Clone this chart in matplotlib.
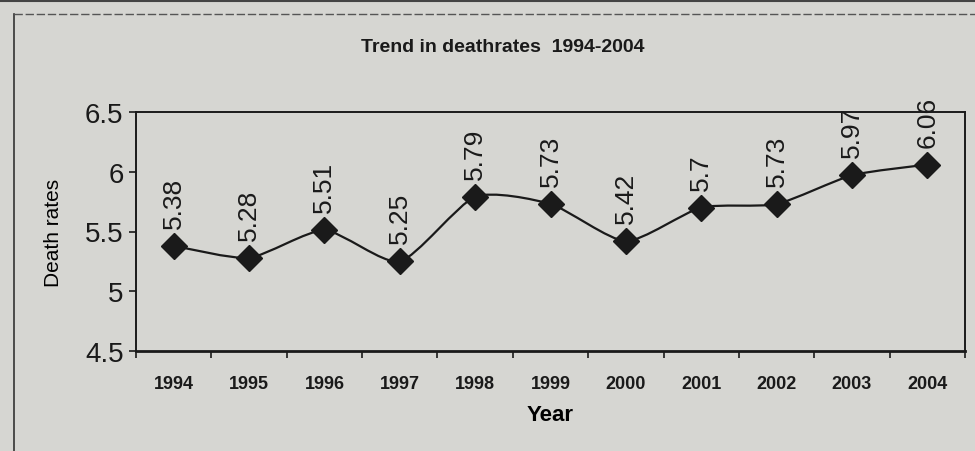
import matplotlib

matplotlib.use("Agg")
import matplotlib.pyplot as plt  # noqa: E402
from matplotlib.path import Path  # noqa: E402
from matplotlib.patches import PathPatch  # noqa: E402
from matplotlib.lines import Line2D  # noqa: E402

years = ["1994", "1995", "1996", "1997", "1998", "1999",
         "2000", "2001", "2002", "2003", "2004"]
death_rates = [5.38, 5.28, 5.51, 5.25, 5.79, 5.73, 5.42, 5.7, 5.73, 5.97, 6.06]

PAPER = "#d6d6d2"
INK = "#1a1a1a"

plt.rcParams.update({
    "font.family": ["Liberation Sans", "DejaVu Sans"],
    "text.color": INK,
    "axes.edgecolor": INK,
    "xtick.color": INK,
    "ytick.color": INK,
})

fig = plt.figure(figsize=(9.75, 4.52), dpi=100, facecolor=PAPER)
ax = fig.add_axes([136 / 975, 1 - 352 / 452, 829 / 975, 239 / 452])
ax.set_facecolor(PAPER)

xs = list(range(len(years)))

# smoothed line (Excel-style), bezier control points from neighbouring values
verts = [(xs[0], death_rates[0])]
codes = [Path.MOVETO]
t = 0.11
for i in range(len(xs) - 1):
    p0 = (xs[max(i - 1, 0)], death_rates[max(i - 1, 0)])
    p1 = (xs[i], death_rates[i])
    p2 = (xs[i + 1], death_rates[i + 1])
    p3 = (xs[min(i + 2, len(xs) - 1)], death_rates[min(i + 2, len(xs) - 1)])
    c1 = (p1[0] + (p2[0] - p0[0]) * t, p1[1] + (p2[1] - p0[1]) * t)
    c2 = (p2[0] - (p3[0] - p1[0]) * t, p2[1] - (p3[1] - p1[1]) * t)
    verts += [c1, c2, p2]
    codes += [Path.CURVE4] * 3
ax.add_patch(PathPatch(Path(verts, codes), facecolor="none",
                       edgecolor=INK, linewidth=1.6, zorder=2))
ax.plot(xs, death_rates, linestyle="none", marker="D", markersize=13,
        color=INK, zorder=3)

for x, v in zip(xs, death_rates):
    ax.annotate(f"{v:g}", xy=(x, v), xytext=(0, 13), textcoords="offset points",
                rotation=90, ha="center", va="bottom", fontsize=19,
                color=INK, annotation_clip=False)

ax.set_xlim(-0.5, len(years) - 0.5)
ax.set_ylim(4.5, 6.5)
ax.set_yticks([4.5, 5, 5.5, 6, 6.5])
ax.set_yticklabels(["4.5", "5", "5.5", "6", "6.5"], fontsize=20)
ax.set_xticks(xs)
ax.set_xticklabels(years, fontsize=13, fontweight="bold")
ax.set_xticks([x - 0.5 for x in xs] + [len(xs) - 0.5], minor=True)
ax.tick_params(axis="x", which="major", length=0, pad=17)
ax.tick_params(axis="x", which="minor", length=5, width=1.2, direction="out")
ax.tick_params(axis="y", length=5, width=1.2, direction="out", pad=4)
for s in ax.spines.values():
    s.set_linewidth(1.4)
ax.spines["bottom"].set_linewidth(2.0)

ax.set_xlabel("Year", fontsize=16, fontweight="bold", labelpad=9)
ax.set_ylabel("Death rates", fontsize=15, labelpad=16)
fig.text(503 / 975, 1 - 47 / 452, "Trend in deathrates  1994-2004",
         ha="center", va="center", fontsize=14, fontweight="bold")

# outer chart-area frame from the scan
fig.add_artist(Line2D([14 / 975, 14 / 975], [0, 1 - 15 / 452],
                      transform=fig.transFigure, color="#333333", linewidth=1.2))
fig.add_artist(Line2D([14 / 975, 1], [1 - 15 / 452, 1 - 15 / 452],
                      transform=fig.transFigure, color="#555555", linewidth=1.0,
                      linestyle=(0, (6, 2))))
fig.add_artist(Line2D([0, 1], [1 - 2 / 452, 1 - 2 / 452],
                      transform=fig.transFigure, color="#444444", linewidth=1.5))

fig.savefig("out.png", dpi=100, facecolor=PAPER)
plt.close(fig)
